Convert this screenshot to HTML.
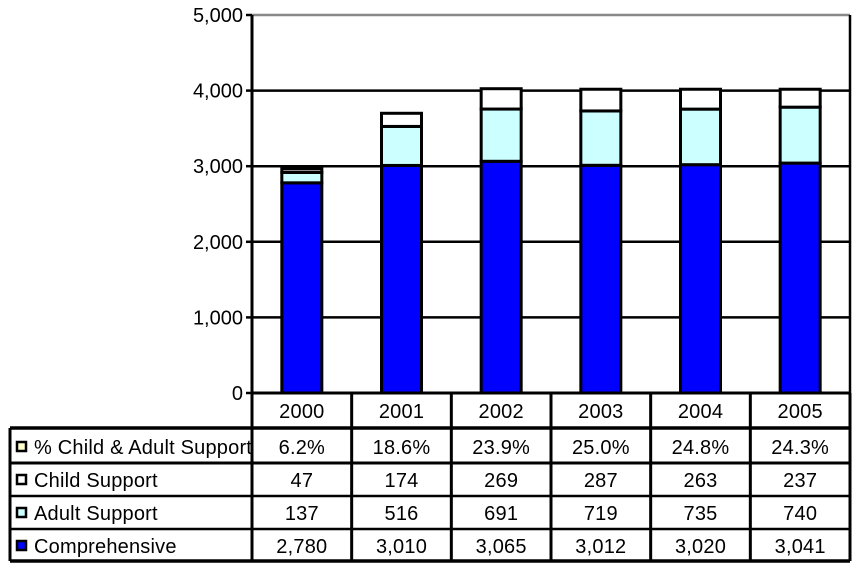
<!DOCTYPE html>
<html><head><meta charset="utf-8"><style>
html,body{margin:0;padding:0;background:#fff;}
svg{display:block;font-family:"Liberation Sans",Arial,sans-serif;}
</style></head><body>
<svg id="chart" width="861" height="569" viewBox="0 0 861 569">
<defs><clipPath id="lc"><rect x="10" y="428" width="241" height="135"/></clipPath></defs>
<g id="grid"></g>
<g id="bars"></g>
<g id="axis"></g>
<g id="table"></g>
</svg>
<script>
const years = ["2000","2001","2002","2003","2004","2005"];
const comprehensive = [2780,3010,3065,3012,3020,3041];
const adultSupport = [137,516,691,719,735,740];
const childSupport = [47,174,269,287,263,237];
const pctLabels = ["6.2%","18.6%","23.9%","25.0%","24.8%","24.3%"];
const compLabels = ["2,780","3,010","3,065","3,012","3,020","3,041"];
const yTicks = [0,1000,2000,3000,4000,5000];
const yTickLabels = ["0","1,000","2,000","3,000","4,000","5,000"];

const NS="http://www.w3.org/2000/svg";
const X0=252, X1=850, Y0=393, Y1=15, YMAX=5000;
const FS=20;
const colW=(X1-X0)/years.length;
function y(v){return Y0-(v/YMAX)*(Y0-Y1);}
function xc(i){return X0+colW*(i+0.5);}
function mk(tag,attrs,parent){const e=document.createElementNS(NS,tag);for(const k in attrs)e.setAttribute(k,attrs[k]);parent.appendChild(e);return e;}
const grid=document.getElementById('grid'),bars=document.getElementById('bars'),axis=document.getElementById('axis'),table=document.getElementById('table');

yTicks.forEach((t,i)=>{
  if(t>0){const l=mk('line',{x1:X0,x2:X1,y1:y(t),y2:y(t),stroke:t===YMAX?'#888':'#000','stroke-width':2.5},grid);
  
  }
  const tk=mk('line',{x1:X0-6,x2:X0,y1:y(t),y2:y(t),stroke:'#000','stroke-width':2.5},axis);
  
  
  const tx=mk('text',{x:X0-9,y:y(t)+7,'text-anchor':'end','font-size':FS,fill:'#000','letter-spacing':'0'},axis);
  tx.textContent=yTickLabels[i];
  
  
});
const ax=mk('line',{x1:X0,x2:X0,y1:Y1,y2:Y0,stroke:'#000','stroke-width':3},axis);


const rb=mk('line',{x1:X1,x2:X1,y1:Y1,y2:Y0,stroke:'#000','stroke-width':2.5},axis);



const BW=40;
years.forEach((yr,i)=>{
  const segs=[[comprehensive[i],'#0000ff','comprehensive'],[adultSupport[i],'#ccffff','adult-support'],[childSupport[i],'#ffffff','child-support']];
  let base=0;
  segs.forEach(s=>{
    const r=mk('rect',{x:xc(i)-BW/2,y:y(base+s[0]),width:BW,height:y(base)-y(base+s[0]),fill:s[1],stroke:'#000','stroke-width':3},bars);
    
    
    base+=s[0];
  });
});

function hl(x1,x2,yy,w){const l=mk('line',{x1:x1,x2:x2,y1:yy,y2:yy,stroke:'#000','stroke-width':w},table);
  
  }
function vl(xx,y1,y2){const l=mk('line',{x1:xx,x2:xx,y1:y1,y2:y2,stroke:'#000','stroke-width':3},table);
  
  }
hl(X0,X1,393,3);
hl(10,X1,428,3.5);
hl(10,X1,463,3);hl(10,X1,496,2.5);hl(10,X1,529,2.5);hl(10,X1,561,3.5);
vl(10,428,561);
for(let i=0;i<=years.length;i++)vl(X0+colW*i,393,561);
function txt(s,x,yy,anchor,name,clip){const t=mk('text',{x:x,y:yy,'text-anchor':anchor,'font-size':FS,fill:'#000','letter-spacing':'0.2'},table);
  if(clip)t.setAttribute('clip-path','url(#lc)');
  t.textContent=s;
  
  }
years.forEach((yr,i)=>{
  txt(yr,xc(i),418,'middle','year-label-'+yr);
  txt(pctLabels[i],xc(i),454,'middle','pct-value-'+yr);
  txt(String(childSupport[i]),xc(i),487,'middle','child-support-value-'+yr);
  txt(String(adultSupport[i]),xc(i),520,'middle','adult-support-value-'+yr);
  txt(compLabels[i],xc(i),553,'middle','comprehensive-value-'+yr);
});
const legend=[["% Child & Adult Support",'#ffffcc',447],["Child Support",'#ffffff',480],["Adult Support",'#ccffff',513],["Comprehensive",'#0000ff',546]];
legend.forEach(l=>{
  const r=mk('rect',{x:17,y:l[2]-5,width:9,height:9,fill:l[1],stroke:'#000','stroke-width':2.5},table);
  
  
  txt(l[0],34,l[2]+7,'start','legend-label',true);
});
</script>
</body></html>
